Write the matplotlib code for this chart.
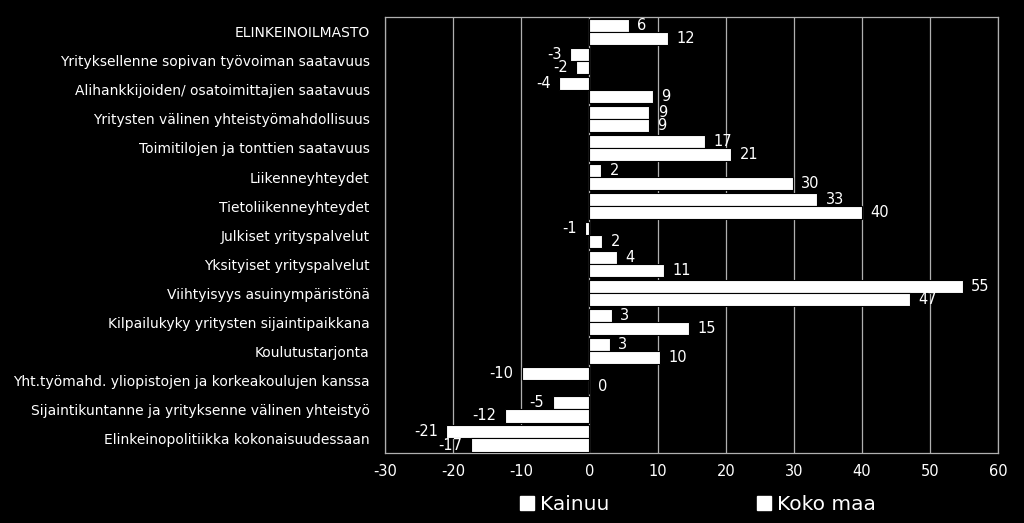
import matplotlib
matplotlib.use("Agg")
import matplotlib.pyplot as plt
import matplotlib.patches as mpatches
import numpy as np

categories = [
    "ELINKEINOILMASTO",
    "Yrityksellenne sopivan työvoiman saatavuus",
    "Alihankkijoiden/ osatoimittajien saatavuus",
    "Yritysten välinen yhteistyömahdollisuus",
    "Toimitilojen ja tonttien saatavuus",
    "Liikenneyhteydet",
    "Tietoliikenneyhteydet",
    "Julkiset yrityspalvelut",
    "Yksityiset yrityspalvelut",
    "Viihtyisyys asuinympäristönä",
    "Kilpailukyky yritysten sijaintipaikkana",
    "Koulutustarjonta",
    "Yht.työmahd. yliopistojen ja korkeakoulujen kanssa",
    "Sijaintikuntanne ja yrityksenne välinen yhteistyö",
    "Elinkeinopolitiikka kokonaisuudessaan",
]
kainuu = [5.8, -2.9, -4.4, 8.8, 16.9, 1.7, 33.4, -0.6, 4.0, 54.8, 3.3, 3.0, -9.9, -5.4, -21.0]
koko_maa = [11.5, -2.0, 9.3, 8.7, 20.8, 29.8, 40.0, 1.9, 10.9, 47.0, 14.6, 10.4, 0.0, -12.4, -17.4]
xticks = [-30, -20, -10, 0, 10, 20, 30, 40, 50, 60]

plt.rcParams['font.family'] = ['DejaVu Sans']

fig = plt.figure(figsize=(10.24, 5.23), dpi=100, facecolor="black")
ax = fig.add_axes([0.376, 0.134, 0.599, 0.833], facecolor="black")

n = len(categories)
y = np.arange(n)[::-1]
h = 0.455

b1 = ax.barh(y + h / 2, kainuu, height=h, color="white", edgecolor="black", linewidth=0.8, zorder=3)
b2 = ax.barh(y - h / 2, koko_maa, height=h, color="white", edgecolor="black", linewidth=0.8, zorder=3)

for bars, vals in ((b1, kainuu), (b2, koko_maa)):
    for bar, v in zip(bars, vals):
        yc = bar.get_y() + bar.get_height() / 2
        off = 6 if v >= 0 else -6
        ax.annotate(f"{round(v):d}", (v, yc), xytext=(off, 0), textcoords="offset points",
                    ha="left" if v >= 0 else "right", va="center",
                    color="white", fontsize=10.5, zorder=4)

ax.set_xlim(-30, 60)
ax.set_ylim(-0.5, n - 0.5)
ax.set_xticks(xticks)
ax.set_xticklabels([str(t) for t in xticks], color="white", fontsize=10.5)
ax.set_yticks(y)
ax.set_yticklabels(categories, color="white", fontsize=10)
ax.tick_params(axis="both", length=0, pad=8)
ax.tick_params(axis="y", pad=11)
ax.grid(axis="x", color="#b0b0b0", linewidth=0.9, zorder=0)
for s in ax.spines.values():
    s.set_color("#b0b0b0")
    s.set_linewidth(0.9)

handles = [mpatches.Patch(facecolor="white", edgecolor="white", label="Kainuu"),
           mpatches.Patch(facecolor="white", edgecolor="white", label="Koko maa")]
leg = ax.legend(handles=handles, loc="upper center", bbox_to_anchor=(0.51, -0.055), ncol=2,
                frameon=False, fontsize=14.5, handlelength=0.7, handleheight=0.7,
                handletextpad=0.3, columnspacing=7.3)
for t in leg.get_texts():
    t.set_color("white")

fig.savefig("out.png", dpi=100, facecolor="black")
